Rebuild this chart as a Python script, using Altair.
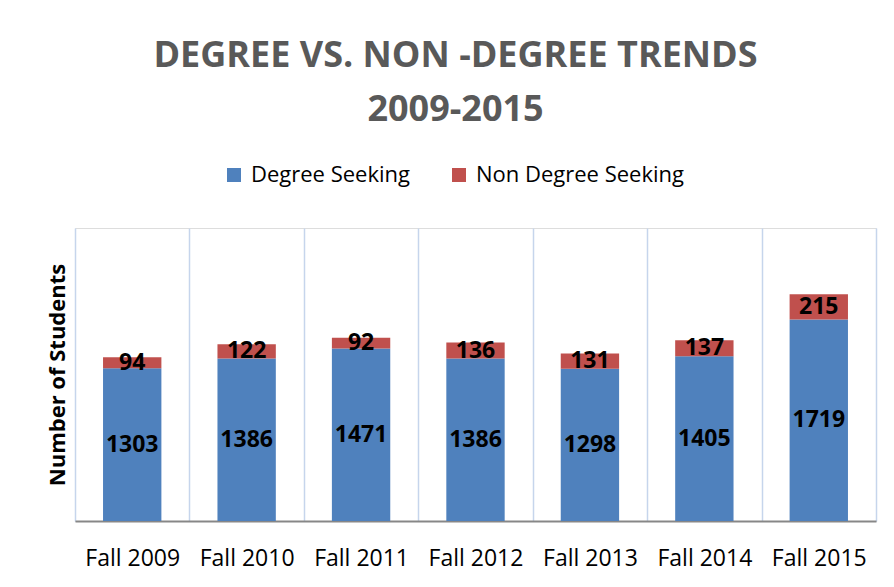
import altair as alt
import pandas as pd

years = ["Fall 2009", "Fall 2010", "Fall 2011", "Fall 2012", "Fall 2013", "Fall 2014", "Fall 2015"]
degree = [1303, 1386, 1471, 1386, 1298, 1405, 1719]
non_degree = [94, 122, 92, 136, 131, 137, 215]
series = ["Degree Seeking", "Non Degree Seeking"]
colors = ["#4F81BD", "#C0504D"]

rows = []
for i, yr in enumerate(years):
    rows.append({"year": yr, "series": series[0], "value": degree[i], "order": 0})
    rows.append({"year": yr, "series": series[1], "value": non_degree[i], "order": 1})
df = pd.DataFrame(rows)

FONT = "Open Sans"

base = alt.Chart(df).transform_stack(
    stack="value", groupby=["year"], as_=["y0", "y1"],
    sort=[alt.SortField("order", "ascending")]
).transform_calculate(mid="(datum.y0 + datum.y1) / 2")

x_enc = alt.X(
    "year:N", sort=years,
    scale=alt.Scale(paddingInner=0, paddingOuter=0),
    axis=alt.Axis(
        title=None, labelAngle=0, labelFont=FONT, labelFontSize=23,
        labelColor="black", labelPadding=26, ticks=False, tickBand="extent",
        grid=True, gridColor="#C6D5EC", gridWidth=1.5,
        domainColor="#878787", domainWidth=2,
    ),
)
y_scale = alt.Scale(domain=[0, 2500])

bars = base.mark_bar(width=alt.RelativeBandSize(0.51)).encode(
    x=x_enc,
    y=alt.Y("y0:Q", scale=y_scale, axis=alt.Axis(
        title="Number of Students", labels=False, ticks=False, domain=False,
        grid=False, titleFont=FONT, titleFontSize=22, titleFontWeight="bold",
        titleColor="black", titleX=-18, titleBaseline="middle",
    )),
    y2="y1:Q",
    color=alt.Color("series:N", scale=alt.Scale(domain=series, range=colors),
                    legend=alt.Legend(
                        title=None, orient="none", legendX=148, legendY=-64,
                        direction="horizontal", symbolType="square",
                        symbolSize=196, symbolStrokeWidth=0, labelFont=FONT,
                        labelFontSize=22, labelColor="black", labelOffset=6,
                        columnPadding=38, labelLimit=400,
                    )),
    order=alt.Order("order:Q"),
)

labels = base.mark_text(
    font=FONT, fontSize=23, fontWeight="bold", color="black", baseline="middle"
).encode(
    x=alt.X("year:N", sort=years),
    y=alt.Y("mid:Q", scale=y_scale),
    text="value:Q",
)

chart = alt.layer(bars, labels).properties(
    width=801, height=293,
    autosize=alt.AutoSizeParams(type="none"),
    padding={"left": 67, "top": 220, "right": 10, "bottom": 58},
    title=alt.TitleParams(
        text=["DEGREE VS. NON -DEGREE TRENDS", "2009-2015"],
        font=FONT, fontSize=36, fontWeight="bold", color="#595959",
        lineHeight=54, offset=35, dx=-20, anchor="middle",
    ),
).configure_view(stroke=None).configure(background="white")

chart.save("out.html", embed_options={"renderer": "svg", "actions": False})
